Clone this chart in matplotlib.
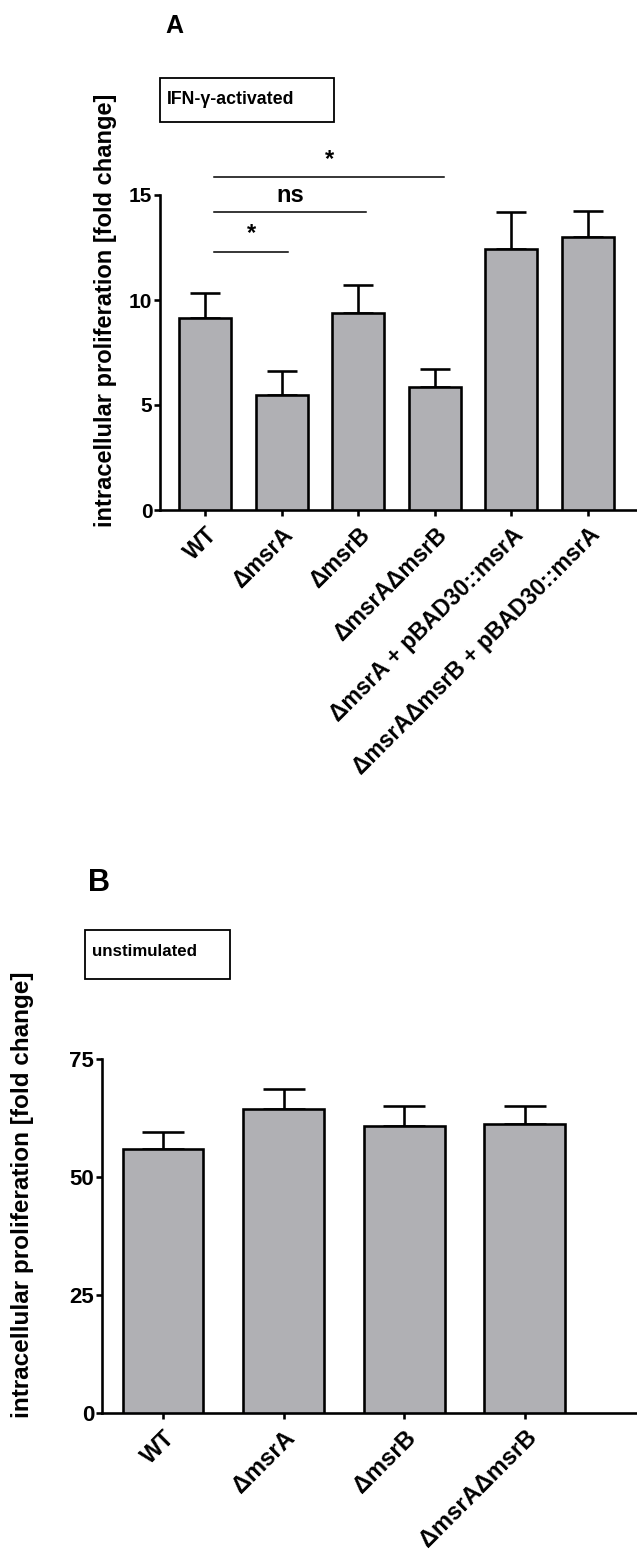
import matplotlib
matplotlib.use("Agg")
import matplotlib.pyplot as plt
from matplotlib.patches import Rectangle
import numpy as np

plt.rcParams['font.family'] = ['Liberation Sans', 'DejaVu Sans']
plt.rcParams['font.weight'] = 'bold'

# ---- Data ----
cats_a = ["WT", "ΔmsrA", "ΔmsrB", "ΔmsrAΔmsrB",
          "ΔmsrA + pBAD30::msrA", "ΔmsrAΔmsrB + pBAD30::msrA"]
means_a = [9.14, 5.48, 9.37, 5.87, 12.43, 12.98]
errs_a = [1.21, 1.14, 1.34, 0.84, 1.77, 1.26]
yticks_a = [0, 5, 10, 15]

sig_pairs = [(0, 1), (0, 2), (0, 3)]
sig_labels = ["*", "ns", "*"]
sig_heights = [12.3, 14.19, 15.86]

cats_b = ["WT", "ΔmsrA", "ΔmsrB", "ΔmsrAΔmsrB"]
means_b = [55.9, 64.5, 60.8, 61.2]
errs_b = [3.6, 4.1, 4.2, 3.8]
yticks_b = [0, 25, 50, 75]

ylabel = "intracellular proliferation [fold change]"

W, H = 637, 1564
fig = plt.figure(figsize=(W / 100, H / 100), dpi=100)

bar_color = "#b0b0b4"
lw_px = 2.6
lw = lw_px * 72 / 100


def fx(px):
    return px / W


def fy(py):
    return 1 - py / H


def style_axes(ax, fs_ytick, fs_xtick):
    for s in ["top", "right"]:
        ax.spines[s].set_visible(False)
    for s in ["left", "bottom"]:
        ax.spines[s].set_linewidth(lw)
    ax.tick_params(axis="both", direction="out", length=4.5, width=lw)
    ax.tick_params(axis="y", pad=1, labelsize=fs_ytick)
    ax.tick_params(axis="x", pad=5, labelsize=fs_xtick)
    for lab in ax.get_yticklabels() + ax.get_xticklabels():
        lab.set_fontweight("bold")


# ---- Panel A ----
axA = fig.add_axes([fx(160), fy(510), fx(637) - fx(160), fy(195) - fy(510)])
xa = np.arange(len(cats_a))
axA.bar(xa, means_a, width=0.68, color=bar_color, edgecolor="black",
        linewidth=lw, zorder=3)
axA.errorbar(xa, means_a, yerr=[np.zeros(len(errs_a)), errs_a], fmt="none",
             ecolor="black", elinewidth=lw, capsize=10.5, capthick=lw, zorder=2)
axA.set_xlim(-0.59, len(cats_a) - 1 + 0.64)
axA.set_ylim(0, 15)
axA.set_yticks(yticks_a)
axA.set_xticks(xa)
axA.set_xticklabels(cats_a, rotation=45, ha="right", rotation_mode="anchor")
style_axes(axA, 15, 16.5)
axA.spines["left"].set_bounds(0, 15)
axA.set_ylabel(ylabel, fontsize=17, fontweight="bold")
axA.yaxis.set_label_coords(-0.09, 0.635)

for (i, j), lab, h in zip(sig_pairs, sig_labels, sig_heights):
    x0 = i + 0.12
    x1 = j + 0.08 + 0.02 * (j - 1)
    axA.plot([x0, x1], [h, h], color="black", lw=1.1, clip_on=False)
    off = 0.3 if lab == "*" else 0.25
    axA.text((x0 + x1) / 2, h + off, lab, ha="center", va="bottom",
             fontsize=17, fontweight="bold", clip_on=False)

fig.text(fx(165), fy(33), "A", fontsize=18, fontweight="bold",
         ha="left", va="baseline")
fig.add_artist(Rectangle((fx(160), fy(122)), fx(334) - fx(160),
                         fy(78) - fy(122), transform=fig.transFigure,
                         fill=False, edgecolor="black", lw=1.3))
fig.text(fx(167), fy(99), "IFN-γ-activated", fontsize=12.8, fontweight="bold",
         ha="left", va="center")

# ---- Panel B ----
axB = fig.add_axes([fx(102), fy(1412.7), fx(637) - fx(102),
                    fy(1059) - fy(1412.7)])
xb = np.arange(len(cats_b))
axB.bar(xb, means_b, width=0.67, color=bar_color, edgecolor="black",
        linewidth=lw, zorder=3)
axB.errorbar(xb, means_b, yerr=[np.zeros(len(errs_b)), errs_b], fmt="none",
             ecolor="black", elinewidth=lw, capsize=15, capthick=lw, zorder=2)
axB.set_xlim(-0.506, len(cats_b) - 1 + 0.93)
axB.set_ylim(0, 75)
axB.set_yticks(yticks_b)
axB.set_xticks(xb)
axB.set_xticklabels(cats_b, rotation=45, ha="right", rotation_mode="anchor")
style_axes(axB, 16, 17)
axB.spines["left"].set_bounds(0, 75)
axB.set_ylabel(ylabel, fontsize=17.5, fontweight="bold")
axB.yaxis.set_label_coords(-0.128, 0.616)

fig.text(fx(88), fy(891), "B", fontsize=22, fontweight="bold",
         ha="left", va="baseline")
fig.add_artist(Rectangle((fx(85), fy(979)), fx(230) - fx(85),
                         fy(930) - fy(979), transform=fig.transFigure,
                         fill=False, edgecolor="black", lw=1.3))
fig.text(fx(92), fy(951), "unstimulated", fontsize=12.2, fontweight="bold",
         ha="left", va="center")

fig.savefig("out.png", dpi=100)
